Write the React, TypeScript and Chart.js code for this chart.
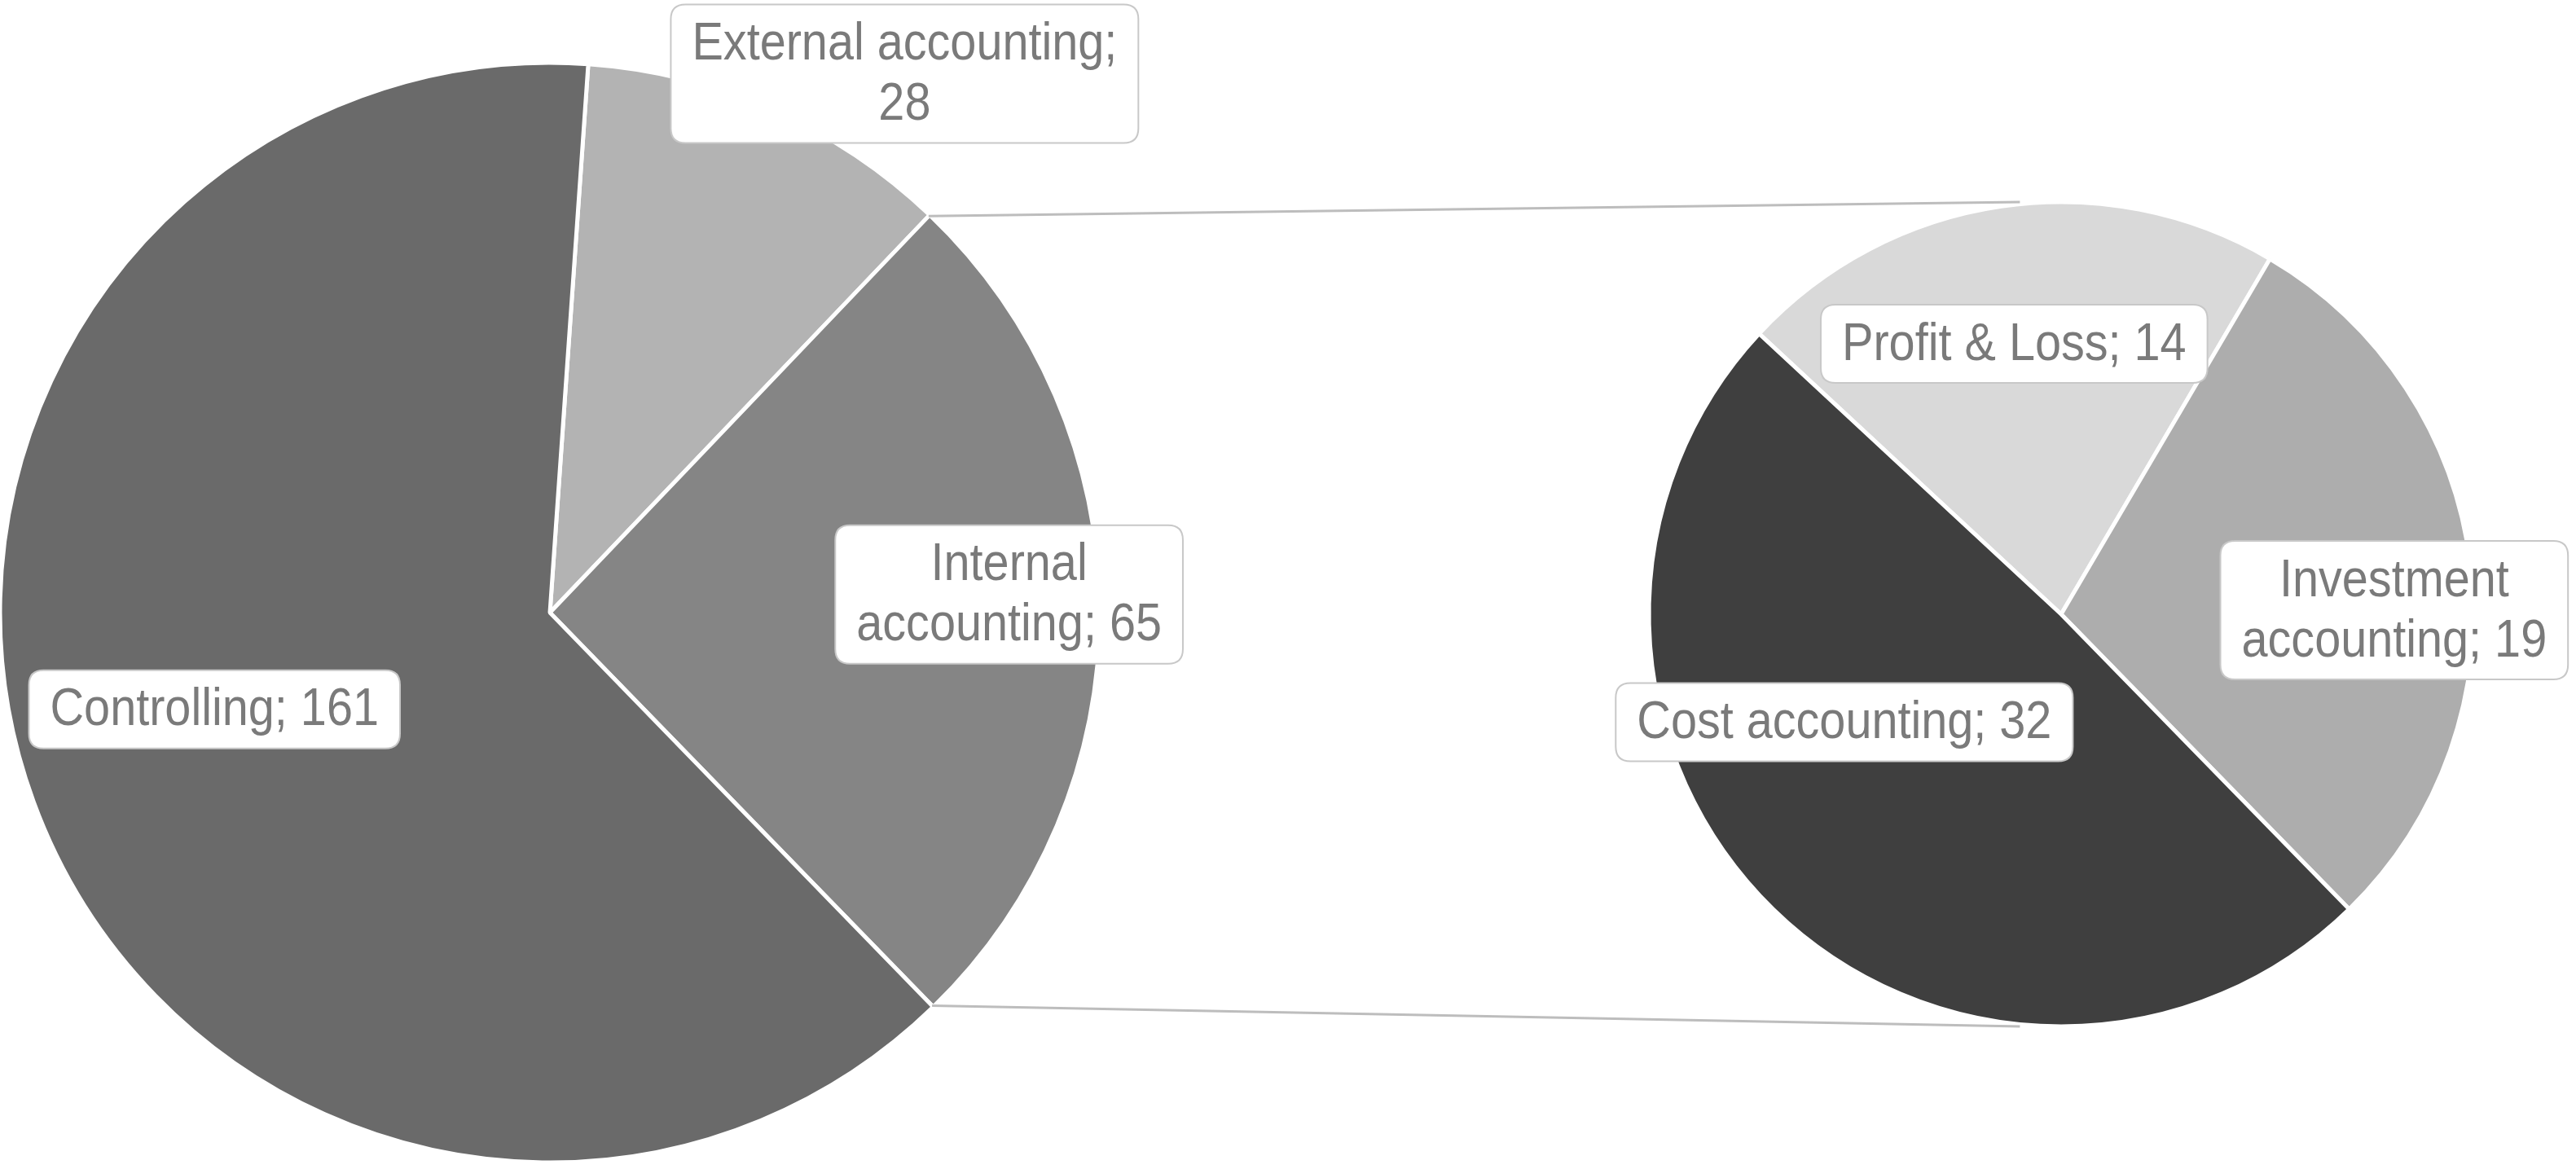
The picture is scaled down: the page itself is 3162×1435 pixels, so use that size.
import React, { useEffect, useRef } from "react";
import { Chart, registerables } from "chart.js";
Chart.register(...registerables);

// ---- data ----
const mainLabels = ["External accounting", "Internal accounting", "Controlling"];
const mainValues = [28, 65, 161];
const mainColors = ["#b3b3b3", "#858585", "#6a6a6a"];

const subLabels = ["Profit & Loss", "Investment accounting", "Cost accounting"];
const subValues = [14, 19, 32];
const subColors = ["#d9d9d9", "#adadad", "#3f3f3f"];

const W = 3162;
const H = 1435;
const FONT = "'Liberation Sans', Arial, sans-serif";

function wrapText(ctx: CanvasRenderingContext2D, text: string, maxW: number, sx: number): string[] {
  const words = text.split(" ");
  const lines: string[] = [];
  let cur = "";
  for (const w of words) {
    const test = cur ? cur + " " + w : w;
    if (cur && ctx.measureText(test).width * sx > maxW) {
      lines.push(cur);
      cur = w;
    } else cur = test;
  }
  if (cur) lines.push(cur);
  return lines;
}

function roundRect(ctx: CanvasRenderingContext2D, x: number, y: number, w: number, h: number, r: number) {
  ctx.beginPath();
  ctx.moveTo(x + r, y);
  ctx.lineTo(x + w - r, y);
  ctx.quadraticCurveTo(x + w, y, x + w, y + r);
  ctx.lineTo(x + w, y + h - r);
  ctx.quadraticCurveTo(x + w, y + h, x + w - r, y + h);
  ctx.lineTo(x + r, y + h);
  ctx.quadraticCurveTo(x, y + h, x, y + h - r);
  ctx.lineTo(x, y + r);
  ctx.quadraticCurveTo(x, y, x + r, y);
  ctx.closePath();
}

const boxLabelPlugin = {
  id: "boxLabels",
  afterDatasetsDraw(chart: any, _args: any, opts: any) {
    const meta = chart.getDatasetMeta(0);
    const ds = chart.data.datasets[0];
    const ctx: CanvasRenderingContext2D = chart.ctx;
    const sx = opts.scaleX;
    ctx.save();
    ctx.font = `${opts.fontSize}px ${FONT}`;
    ctx.textAlign = "center";
    ctx.textBaseline = "middle";
    meta.data.forEach((arc: any, i: number) => {
      const { x, y, outerRadius } = arc.getProps(["x", "y", "outerRadius"], true);
      const pos = opts.positions[i];
      const cx = x + pos[0] * outerRadius;
      const cy = y + pos[1] * outerRadius;
      const text = `${chart.data.labels[i]}; ${ds.data[i]}`;
      const lines = wrapText(ctx, text, opts.maxWidths[i], sx);
      const tw = Math.max(...lines.map((l) => ctx.measureText(l).width * sx));
      const bw = tw + opts.padX * 2;
      const bh = lines.length * opts.lineHeight + opts.padY * 2;
      roundRect(ctx, cx - bw / 2, cy - bh / 2, bw, bh, opts.radius);
      ctx.fillStyle = "#ffffff";
      ctx.fill();
      ctx.lineWidth = 2;
      ctx.strokeStyle = "#c8c8c8";
      ctx.stroke();
      ctx.fillStyle = "#7a7a7a";
      lines.forEach((l, k) => {
        const ly = cy - bh / 2 + opts.padY + opts.lineHeight * (k + 0.5) + 2;
        ctx.save();
        ctx.translate(cx, ly);
        ctx.scale(sx, 1);
        ctx.fillText(l, 0, 0);
        ctx.restore();
      });
    });
    ctx.restore();
  },
};

export default function App() {
  const ref1 = useRef<HTMLCanvasElement>(null);
  const ref2 = useRef<HTMLCanvasElement>(null);

  useEffect(() => {
    const labelCommon = { fontSize: 64, scaleX: 0.9, lineHeight: 74, padX: 26, padY: 11, radius: 18 };

    const chart1 = new Chart(ref1.current!, {
      type: "pie",
      data: {
        labels: mainLabels,
        datasets: [
          {
            data: mainValues,
            backgroundColor: mainColors,
            borderColor: "#ffffff",
            borderWidth: 5,
          },
        ],
      },
      plugins: [boxLabelPlugin],
      options: {
        responsive: false,
        animation: false,
        rotation: 4,
        radius: 675,
        layout: { padding: { left: 0, right: W - 1350, top: 77, bottom: H - 1427 } },
        plugins: {
          legend: { display: false },
          tooltip: { enabled: false },
          boxLabels: {
            ...labelCommon,
            positions: [
              [0.645, -0.98],
              [0.835, -0.033],
              [-0.61, 0.176],
            ],
            maxWidths: [560, 400, 2000],
          },
        } as any,
      } as any,
    });

    const connectorPlugin = {
      id: "connectors",
      afterDraw(chart: any) {
        const src = chart1.getDatasetMeta(0).data[1] as any;
        const p = src.getProps(["x", "y", "startAngle", "endAngle", "outerRadius"], true);
        const dst = chart.getDatasetMeta(0).data[0] as any;
        const q = dst.getProps(["x", "y", "outerRadius"], true);
        const ctx: CanvasRenderingContext2D = chart.ctx;
        ctx.save();
        ctx.strokeStyle = "#bdbdbd";
        ctx.lineWidth = 3;
        const r = p.outerRadius - 2;
        const sx1 = p.x + r * Math.cos(p.startAngle);
        const sy1 = p.y + r * Math.sin(p.startAngle);
        const sx2 = p.x + r * Math.cos(p.endAngle);
        const sy2 = p.y + r * Math.sin(p.endAngle);
        const ex = q.x - 0.1 * q.outerRadius;
        ctx.beginPath();
        ctx.moveTo(sx1, sy1);
        ctx.lineTo(ex, q.y - q.outerRadius);
        ctx.moveTo(sx2, sy2);
        ctx.lineTo(ex, q.y + q.outerRadius);
        ctx.stroke();
        ctx.restore();
      },
    };

    const chart2 = new Chart(ref2.current!, {
      type: "pie",
      data: {
        labels: subLabels,
        datasets: [
          {
            data: subValues,
            backgroundColor: subColors,
            borderColor: "#ffffff",
            borderWidth: 5,
          },
        ],
      },
      plugins: [connectorPlugin, boxLabelPlugin],
      options: {
        responsive: false,
        animation: false,
        rotation: -47.1,
        radius: 506,
        layout: { padding: { left: 2024, right: W - 3036, top: 248, bottom: H - 1260 } },
        plugins: {
          legend: { display: false },
          tooltip: { enabled: false },
          boxLabels: {
            ...labelCommon,
            positions: [
              [-0.114, -0.656],
              [0.808, -0.01],
              [-0.526, 0.262],
            ],
            maxWidths: [2000, 400, 2000],
          },
        } as any,
      } as any,
    });

    return () => {
      chart2.destroy();
      chart1.destroy();
    };
  }, []);

  const canvasStyle: React.CSSProperties = { position: "absolute", left: 0, top: 0 };
  return (
    <div style={{ position: "absolute", left: 0, top: 0, width: W, height: H, background: "#ffffff", overflow: "hidden" }}>
      <canvas ref={ref1} width={W} height={H} style={canvasStyle} />
      <canvas ref={ref2} width={W} height={H} style={canvasStyle} />
    </div>
  );
}
